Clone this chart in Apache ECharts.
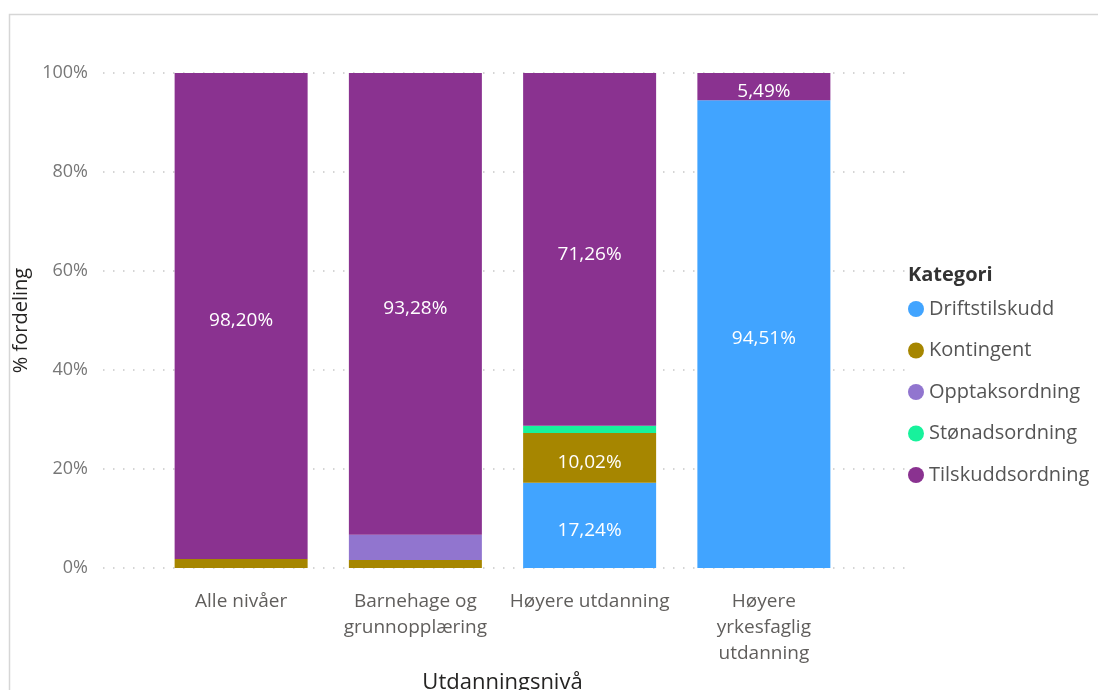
<!DOCTYPE html>
<html>
<head>
<meta charset="utf-8">
<script src="https://cdn.jsdelivr.net/npm/echarts@6/dist/echarts.min.js"></script>
<style>
  html, body { margin: 0; padding: 0; background: #ffffff; }
  #chart { width: 1098px; height: 690px; }
</style>
</head>
<body>
<div id="chart"></div>
<script>
// Education levels (tick labels, wrapped as displayed)
const categories = ['Alle nivåer', 'Barnehage og\ngrunnopplæring', 'Høyere utdanning', 'Høyere\nyrkesfaglig\nutdanning'];

// Share per category (% of each education level)
const driftstilskudd   = [0,     0,     17.24, 94.51];
const kontingent       = [1.80,  1.62,  10.02, 0];
const opptaksordning   = [0,     5.10,  0,     0];
const stonadsordning   = [0,     0,     1.48,  0];
const tilskuddsordning = [98.20, 93.28, 71.26, 5.49];

const seriesNames  = ['Driftstilskudd', 'Kontingent', 'Opptaksordning', 'Stønadsordning', 'Tilskuddsordning'];
const seriesValues = [driftstilskudd, kontingent, opptaksordning, stonadsordning, tilskuddsordning];
const seriesColors = ['#41A4FF', '#A68600', '#9175CF', '#17F29C', '#8A3290'];

const yTicks = [0, 20, 40, 60, 80, 100];

const baseFont = '"Open Sans", "Noto Sans", sans-serif';

const fmtPct = v => v.toFixed(2).replace('.', ',') + '%';

const chart = echarts.init(document.getElementById('chart'), null, { renderer: 'canvas' });

chart.setOption({
  animation: false,
  textStyle: { fontFamily: baseFont },
  graphic: [{
    type: 'rect',
    shape: { x: 9.5, y: 14.5, width: 1300, height: 900 },
    style: { fill: 'none', stroke: '#d6d6d6', lineWidth: 1.5 },
    silent: true
  }],
  title: {
    text: 'Kategori',
    left: 903,
    top: 260,
    textStyle: { fontFamily: baseFont, fontSize: 20, fontWeight: 'bold', color: '#333333' }
  },
  legend: {
    orient: 'vertical',
    left: 903,
    top: 294,
    icon: 'circle',
    itemWidth: 16,
    itemHeight: 16,
    itemGap: 21.5,
    data: seriesNames,
    textStyle: { fontFamily: baseFont, fontSize: 20, color: '#555555', lineHeight: 20 }
  },
  grid: [
    // backdrop grid carrying the dotted gridlines and percentage ticks
    { left: 103, right: 189, top: 73, bottom: 122, outerBoundsMode: 'none' },
    // bar area
    { left: 154, right: 247, top: 73, bottom: 122, outerBoundsMode: 'none' }
  ],
  xAxis: [
    { gridIndex: 0, type: 'value', show: false, min: 0, max: 1 },
    {
      gridIndex: 1,
      type: 'category',
      data: categories,
      axisLine: { show: false },
      axisTick: { show: false },
      axisLabel: {
        interval: 0,
        margin: 21,
        fontSize: 19,
        lineHeight: 26,
        color: '#605E5C',
        align: 'center'
      },
      name: 'Utdanningsnivå',
      nameLocation: 'middle',
      nameGap: 100,
      nameTextStyle: { fontSize: 22, color: '#252423' }
    }
  ],
  yAxis: [
    {
      gridIndex: 0,
      type: 'value',
      min: 0,
      max: 100,
      interval: 20,
      axisLine: { show: false },
      axisTick: { show: false },
      axisLabel: {
        margin: 15,
        fontSize: 18,
        color: '#777777',
        formatter: v => yTicks.includes(v) ? v + '%' : ''
      },
      splitLine: {
        show: true,
        lineStyle: { color: '#c8c8c8', width: 1.5, type: [1.5, 8.5] }
      },
      name: '% fordeling',
      nameLocation: 'middle',
      nameGap: 72,
      nameTextStyle: { fontSize: 20, color: '#252423' }
    },
    { gridIndex: 1, type: 'value', min: 0, max: 100, show: false }
  ],
  series: seriesNames.map((name, i) => ({
    name: name,
    type: 'bar',
    stack: 'total',
    xAxisIndex: 1,
    yAxisIndex: 1,
    barWidth: 133,
    itemStyle: { color: seriesColors[i] },
    label: {
      show: true,
      position: 'inside',
      offset: [0, 5],
      color: '#ffffff',
      fontSize: 19,
      fontFamily: baseFont,
      formatter: p => p.value >= 5.3 ? fmtPct(p.value) : ''
    },
    data: seriesValues[i]
  }))
});
</script>
</body>
</html>
